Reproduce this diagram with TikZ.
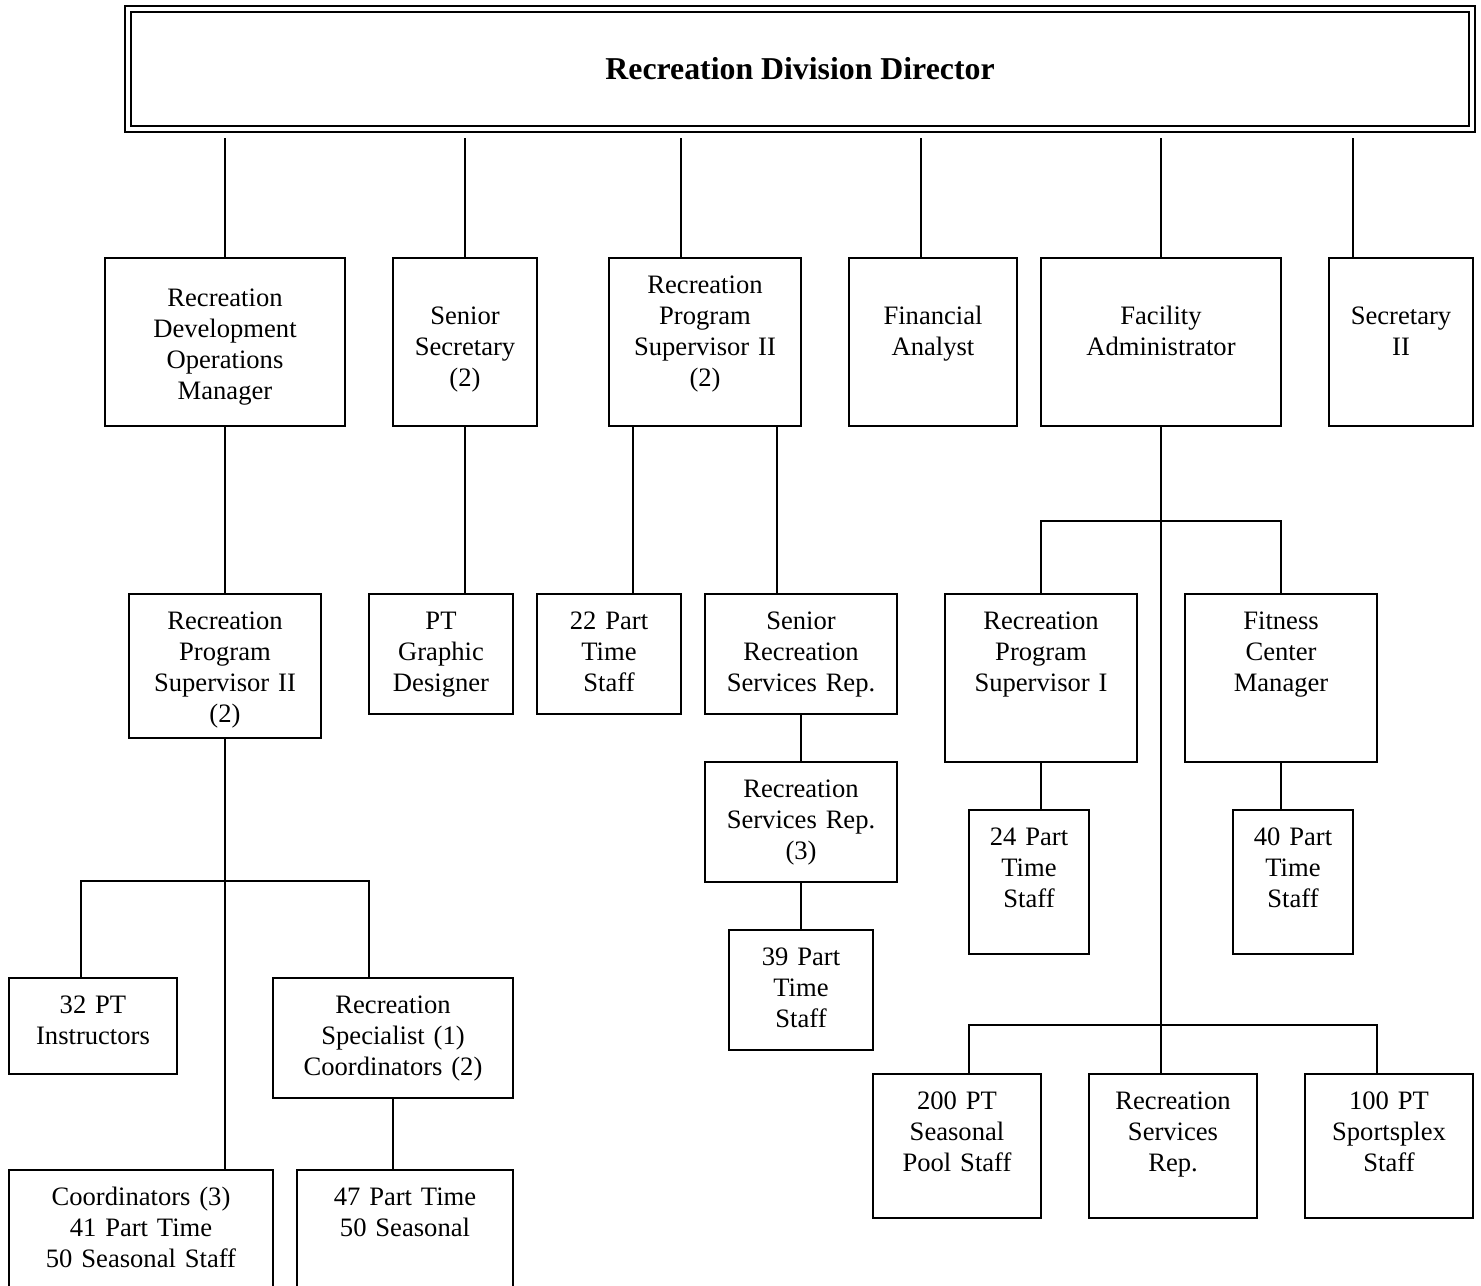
\documentclass[tikz,border=0pt]{standalone}
\usepackage{fontspec}
\setmainfont{Liberation Serif}

\begin{document}
\begin{tikzpicture}[
  x=0.5pt, y=-0.5pt,
  font=\fontsize{13.3}{15.5}\selectfont,
  orgbox/.style={draw, line width=1.1pt, anchor=north, align=center,
    inner xsep=0pt, inner ysep=0pt, text height=17.5pt},
  titlebox/.style={draw, double, line width=1.2pt, double distance=1.8pt,
    minimum width=672pt, minimum height=60pt,
    font=\fontsize{15.9}{19}\selectfont\bfseries},
  link/.style={line width=1pt},
  toplink/.style={link, shorten >=4pt}
]
\path[use as bounding box] (0,0) rectangle (1481,1285);
\clip (0,0) rectangle (1481,1285);

\node[titlebox] (dir) at (800,69) {Recreation Division Director};

% first row under the director
\node[orgbox, text width=120pt, text height=24pt, text depth=60pt] (devmgr) at (225,257)
  {Recreation\\Development\\Operations\\Manager};
\node[orgbox, text width=72pt, text height=33pt, text depth=51pt] (sensec) at (465,257)
  {Senior\\Secretary\\(2)};
\node[orgbox, text width=96pt, text depth=66.5pt] (progsupA) at (705,257)
  {Recreation\\Program\\Supervisor II\\(2)};
\node[orgbox, text width=84pt, text height=33pt, text depth=51pt] (finan) at (933,257)
  {Financial\\Analyst};
\node[orgbox, text width=120pt, text height=33pt, text depth=51pt] (facadmin) at (1161,257)
  {Facility\\Administrator};
\node[orgbox, text width=72pt, text height=33pt, text depth=51pt] (secii) at (1401,257)
  {Secretary\\II};

% second row
\node[orgbox, text width=96pt, text depth=54.5pt] (progsupB) at (225,593)
  {Recreation\\Program\\Supervisor II\\(2)};
\node[orgbox, text width=72pt, text depth=42.5pt] (graphic) at (441,593)
  {PT\\Graphic\\Designer};
\node[orgbox, text width=72pt, text depth=42.5pt] (pt22) at (609,593)
  {22 Part\\Time\\Staff};
\node[orgbox, text width=96pt, text depth=42.5pt] (srrep) at (801,593)
  {Senior\\Recreation\\Services Rep.};
\node[orgbox, text width=96pt, text depth=42.5pt] (rrep3) at (801,761)
  {Recreation\\Services Rep.\\(3)};
\node[orgbox, text width=72pt, text depth=42.5pt] (pt39) at (801,929)
  {39 Part\\Time\\Staff};
\node[orgbox, text width=96pt, text depth=66.5pt] (progsupI) at (1041,593)
  {Recreation\\Program\\Supervisor I};
\node[orgbox, text width=96pt, text depth=66.5pt] (fitness) at (1281,593)
  {Fitness\\Center\\Manager};
\node[orgbox, text width=60pt, text depth=54.5pt] (pt24) at (1029,809)
  {24 Part\\Time\\Staff};
\node[orgbox, text width=60pt, text depth=54.5pt] (pt40) at (1293,809)
  {40 Part\\Time\\Staff};

% lower rows
\node[orgbox, text width=84pt, text depth=30.5pt] (instr) at (93,977)
  {32 PT\\Instructors};
\node[orgbox, text width=120pt, text depth=42.5pt] (recspec) at (393,977)
  {Recreation\\Specialist (1)\\Coordinators (2)};
\node[orgbox, text width=132pt, text depth=54.5pt] (coord) at (141,1169)
  {Coordinators (3)\\41 Part Time\\50 Seasonal Staff};
\node[orgbox, text width=108pt, text depth=54.5pt] (pt47) at (405,1169)
  {47 Part Time\\50 Seasonal};
\node[orgbox, text width=84pt, text depth=54.5pt] (pool) at (957,1073)
  {200 PT\\Seasonal\\Pool Staff};
\node[orgbox, text width=84pt, text depth=54.5pt] (rrep) at (1173,1073)
  {Recreation\\Services\\Rep.};
\node[orgbox, text width=84pt, text depth=54.5pt] (sports) at (1389,1073)
  {100 PT\\Sportsplex\\Staff};

\coordinate (devbus) at (225,881);
\coordinate (facbus) at (1161,521);
\coordinate (poolbus) at (1161,1025);

% director to first row
\draw[toplink] (devmgr.north) -- (devmgr.north |- dir.south);
\draw[toplink] (sensec.north) -- (sensec.north |- dir.south);
\draw[toplink] ([xshift=-12pt]progsupA.north) -- ([xshift=-12pt]progsupA.north |- dir.south);
\draw[toplink] ([xshift=-6pt]finan.north) -- ([xshift=-6pt]finan.north |- dir.south);
\draw[toplink] (facadmin.north) -- (facadmin.north |- dir.south);
\draw[toplink] ([xshift=-24pt]secii.north) -- ([xshift=-24pt]secii.north |- dir.south);

\draw[link] (devmgr.south) -- (progsupB.north);
\draw[link] (sensec.south) -- (sensec.south |- graphic.north);
\draw[link] ([xshift=-36pt]progsupA.south) -- ([xshift=-36pt]progsupA.south |- pt22.north);
\draw[link] ([xshift=36pt]progsupA.south) -- ([xshift=36pt]progsupA.south |- srrep.north);
\draw[link] (srrep.south) -- (rrep3.north);
\draw[link] (rrep3.south) -- (pt39.north);

\draw[link] (facadmin.south) -- (facadmin.south |- rrep.north);
\draw[link] (progsupI.north) |- (facbus) -| (fitness.north);
\draw[link] (progsupI.south) -- (progsupI.south |- pt24.north);
\draw[link] (fitness.south) -- (fitness.south |- pt40.north);
\draw[link] ([xshift=6pt]pool.north) |- (poolbus) -| ([xshift=-6pt]sports.north);

\draw[link] (progsupB.south) -- (progsupB.south |- coord.north);
\draw[link] ([xshift=-6pt]instr.north) |- (devbus) -| ([xshift=-12pt]recspec.north);
\draw[link] (recspec.south) -- (recspec.south |- pt47.north);
\end{tikzpicture}
\end{document}
